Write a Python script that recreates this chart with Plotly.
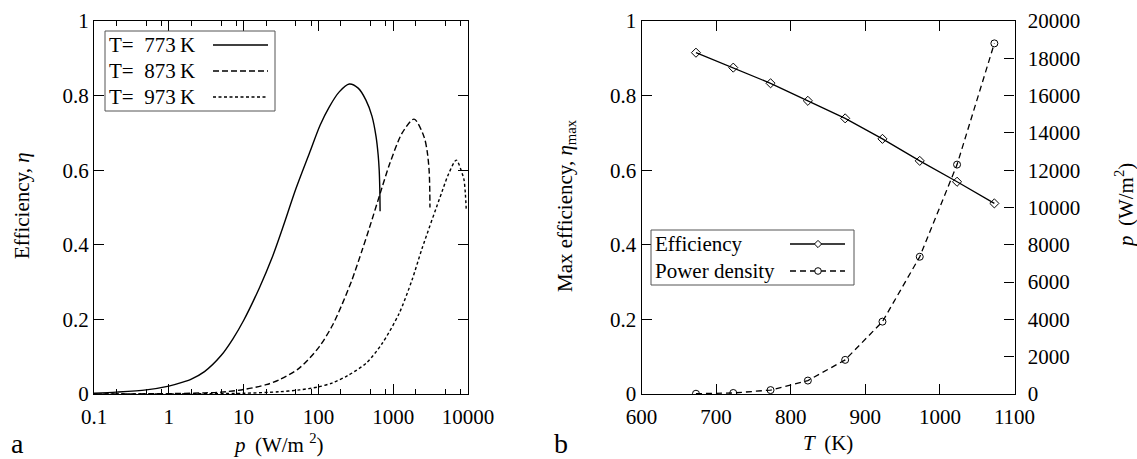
import plotly.graph_objects as go

# ---------------- data ----------------
# panel a: efficiency vs power density for three temperatures
p_773 = [0.1, 0.2, 0.5, 1, 1.5, 2, 3, 5, 7.2, 10, 16.3, 24, 33, 50, 76, 105, 140, 190, 259, 340, 432, 520, 590, 630, 650, 662, 668]
eta_773 = [0.002, 0.005, 0.011, 0.021, 0.031, 0.04, 0.06, 0.103, 0.148, 0.197, 0.285, 0.365, 0.443, 0.55, 0.646, 0.72, 0.77, 0.81, 0.831, 0.82, 0.788, 0.745, 0.69, 0.64, 0.60, 0.55, 0.49]

p_873 = [0.1, 1, 3, 5, 10, 20, 30, 56, 103, 155, 210, 280, 385, 480, 700, 890, 1320, 1900, 2580, 2850, 3020, 3080, 3100]
eta_873 = [0.0, 0.001, 0.003, 0.005, 0.012, 0.025, 0.038, 0.07, 0.127, 0.185, 0.243, 0.305, 0.386, 0.445, 0.55, 0.615, 0.70, 0.737, 0.69, 0.65, 0.60, 0.55, 0.50]

p_973 = [0.1, 1, 10, 30, 56, 100, 155, 250, 437, 715, 1200, 1780, 2430, 4450, 5500, 6980, 8400, 8850, 9200, 9500]
eta_973 = [0.0, 0.0003, 0.002, 0.006, 0.011, 0.019, 0.03, 0.05, 0.083, 0.136, 0.216, 0.305, 0.39, 0.54, 0.59, 0.627, 0.59, 0.574, 0.54, 0.49]

legend_a = ["T=\u00a0\u00a0773\u2009K", "T=\u00a0\u00a0873\u2009K", "T=\u00a0\u00a0973\u2009K"]

x_tickvals_a = [0.1, 1, 10, 100, 1000, 10000]
x_ticktext_a = ["0.1", "1", "10", "100", "1000", "10000"]
x_minor_a = [m * d for d in [0.1, 1, 10, 100, 1000] for m in (2, 5, 8)]

# panel b: max efficiency and power density vs temperature
T = [673, 723, 773, 823, 873, 923, 973, 1023, 1073]
eta_max = [0.915, 0.875, 0.833, 0.786, 0.739, 0.684, 0.625, 0.569, 0.511]
p_max = [15, 55, 210, 720, 1830, 3880, 7360, 12300, 18800]

legend_b = ["Efficiency", "Power density"]

# ---------------- layout helpers ----------------
W, H = 1137, 459
FONT = "Liberation Serif, Times New Roman, Times, serif"
FS = 21


def px(x):
    return x / W


def py(y):
    return 1 - y / H


xa_dom = [px(94), px(468)]
xb_dom = [px(641.5), px(1014.5)]
y_dom = [py(394), py(21)]

fig = go.Figure()

# panel a traces
fig.add_trace(go.Scatter(x=p_773, y=eta_773, mode="lines",
                         line=dict(color="black", width=1.4, shape="spline", smoothing=0.8),
                         xaxis="x", yaxis="y", name=legend_a[0]))
fig.add_trace(go.Scatter(x=p_873, y=eta_873, mode="lines",
                         line=dict(color="black", width=1.4, dash="6px,3px", shape="spline", smoothing=0.8),
                         xaxis="x", yaxis="y", name=legend_a[1]))
fig.add_trace(go.Scatter(x=p_973, y=eta_973, mode="lines",
                         line=dict(color="black", width=1.4, dash="3px,2.5px", shape="spline", smoothing=0.8),
                         xaxis="x", yaxis="y", name=legend_a[2]))

# panel b traces
fig.add_trace(go.Scatter(x=T, y=eta_max, mode="lines+markers", line=dict(color="black", width=1.3),
                         marker=dict(symbol="diamond-open", size=7, color="black", line=dict(width=1)),
                         xaxis="x2", yaxis="y2", name=legend_b[0]))
fig.add_trace(go.Scatter(x=T, y=p_max, mode="lines+markers", line=dict(color="black", width=1.3, dash="6px,4px"),
                         marker=dict(symbol="circle-open", size=7, color="black", line=dict(width=1)),
                         xaxis="x2", yaxis="y3", name=legend_b[1]))

axis_common = dict(showline=True, linecolor="black", linewidth=1.3, ticks="inside", tickcolor="black",
                   tickwidth=1, ticklen=10, showgrid=False, zeroline=False, automargin=False,
                   tickfont=dict(family=FONT, size=FS, color="black"))

fig.update_layout(
    template="none",
    width=W, height=H,
    margin=dict(l=0, r=0, t=0, b=0, pad=0),
    paper_bgcolor="white", plot_bgcolor="white",
    showlegend=False,
    font=dict(family=FONT, size=FS, color="black"),
    xaxis=dict(axis_common, type="log", range=[-1, 4], domain=xa_dom, anchor="y",
               tickmode="array", tickvals=x_tickvals_a, ticktext=x_ticktext_a, mirror="ticks",
               ticklabelstandoff=4,
               minor=dict(tickmode="array", tickvals=x_minor_a, ticks="inside", ticklen=5,
                          tickcolor="black", tickwidth=1, showgrid=False)),
    yaxis=dict(axis_common, range=[0, 1], dtick=0.2, domain=y_dom, anchor="x", mirror="ticks"),
    xaxis2=dict(axis_common, range=[600, 1100], dtick=100, domain=xb_dom, anchor="y2", mirror="ticks",
                ticklabelstandoff=4),
    yaxis2=dict(axis_common, range=[0, 1], dtick=0.2, domain=y_dom, anchor="x2"),
    yaxis3=dict(axis_common, range=[0, 20000], dtick=2000, tickformat="d", overlaying="y2", side="right",
                anchor="x2", ticklabelstandoff=8),
)

ann = []
shapes = []


def text(x, y, s, size=FS, angle=0, xanchor="center"):
    ann.append(dict(x=px(x), y=py(y), xref="paper", yref="paper", text=s, showarrow=False,
                    textangle=angle, xanchor=xanchor, yanchor="middle",
                    font=dict(family=FONT, size=size, color="black")))


# axis titles
text(22, 206, "Efficiency, <i>η</i>", angle=-90)
text(278, 443, "<i>p</i>\u2009 (W/m <sup>2</sup>)")
text(566, 206, "Max efficiency, <i>η</i><sub>max</sub>", angle=-90)
text(828, 443, "<i>T</i>\u2009 (K)")
text(1124, 206, "<i>p</i>\u2009 (W/m<sup>2</sup>)", angle=-90)
# panel labels
text(17, 443, "a", size=28)
text(561, 443, "b", size=28)

# legend a
shapes.append(dict(type="rect", xref="paper", yref="paper", x0=px(105), x1=px(275), y0=py(111), y1=py(31),
                   line=dict(color="#555", width=1), fillcolor="white", layer="above"))
dashes = ["solid", "6px,3px", "3px,2.5px"]
for i, (lab, d) in enumerate(zip(legend_a, dashes)):
    yy = 45 + 26 * i
    text(107, yy, lab, xanchor="left")
    shapes.append(dict(type="line", xref="paper", yref="paper", x0=px(213), x1=px(268), y0=py(yy), y1=py(yy),
                       line=dict(color="black", width=1.4, dash=d), layer="above"))

# legend b
shapes.append(dict(type="rect", xref="paper", yref="paper", x0=px(651), x1=px(854), y0=py(285), y1=py(230),
                   line=dict(color="#555", width=1), fillcolor="white", layer="above"))
for i, (lab, d) in enumerate(zip(legend_b, ["solid", "6px,4px"])):
    yy = 244 + 27 * i
    text(653, yy, lab, xanchor="left")
    shapes.append(dict(type="line", xref="paper", yref="paper", x0=px(790), x1=px(845), y0=py(yy), y1=py(yy),
                       line=dict(color="black", width=1.3, dash=d), layer="above"))
# legend markers
cx, r = 818, 3.3
shapes.append(dict(type="path", xref="paper", yref="paper",
                   path=f"M {px(cx)},{py(244 - 3.6)} L {px(cx + 3.6)},{py(244)} L {px(cx)},{py(244 + 3.6)} L {px(cx - 3.6)},{py(244)} Z",
                   line=dict(color="black", width=1), fillcolor="white", layer="above"))
shapes.append(dict(type="circle", xref="paper", yref="paper", x0=px(cx - r), x1=px(cx + r), y0=py(271 + r), y1=py(271 - r),
                   line=dict(color="black", width=1), fillcolor="white", layer="above"))

fig.update_layout(annotations=ann, shapes=shapes)

fig.write_html("out.html")
